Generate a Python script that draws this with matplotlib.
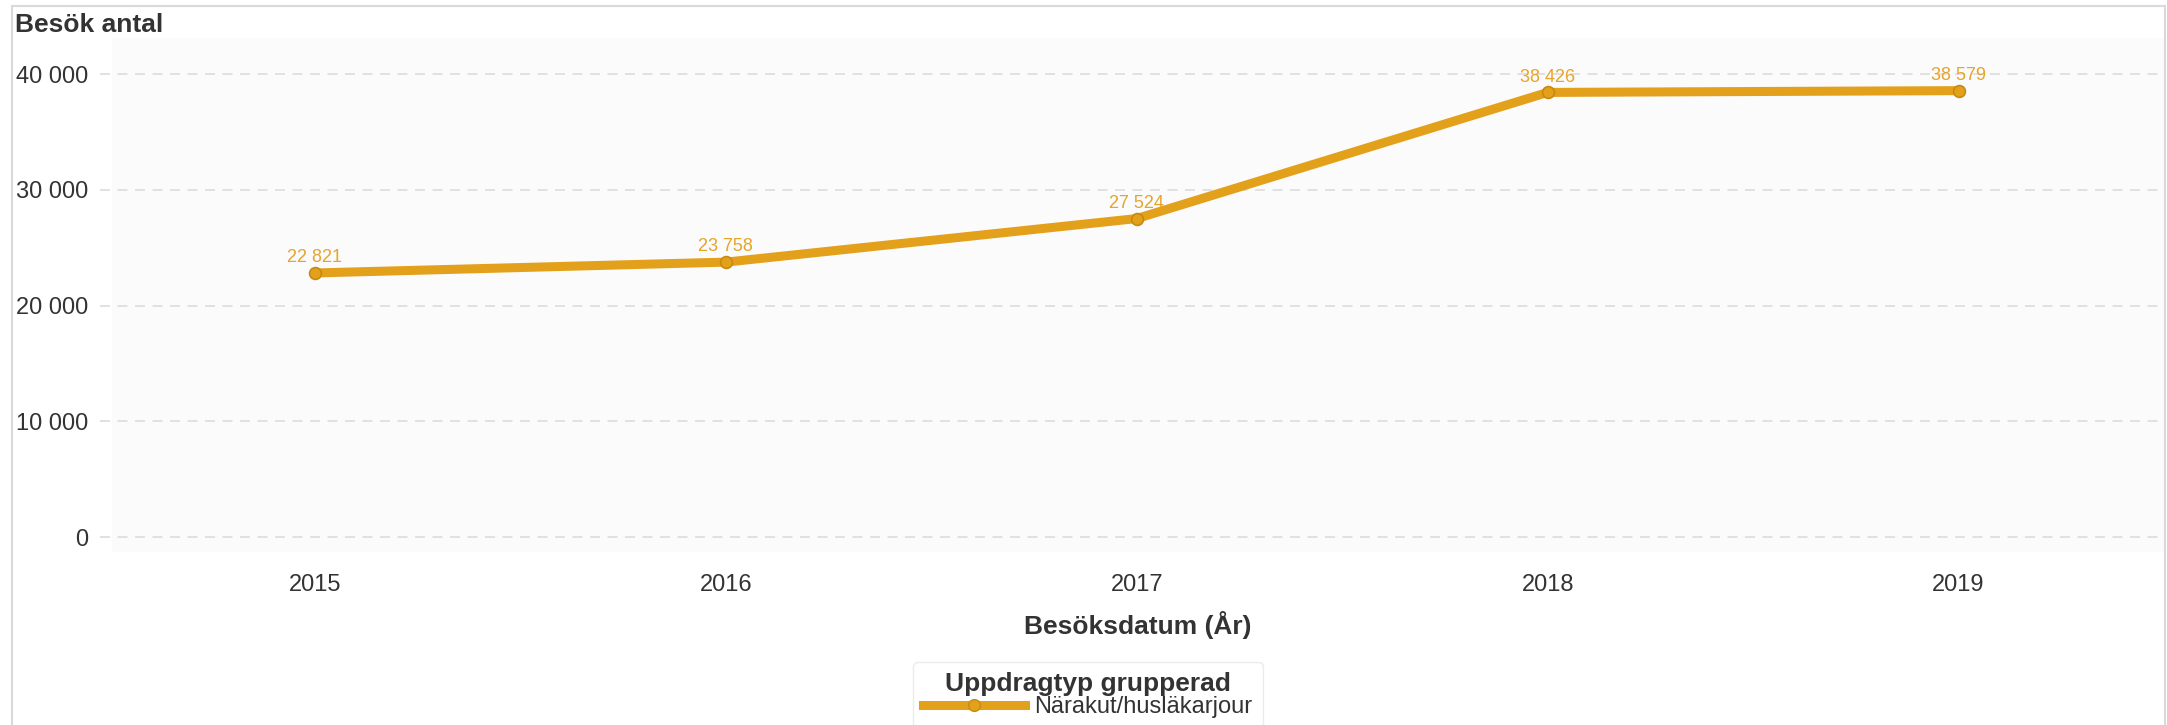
import matplotlib
matplotlib.use("Agg")
import matplotlib.pyplot as plt
from matplotlib.patches import Rectangle
from matplotlib.lines import Line2D

plt.rcParams['font.family'] = ['Liberation Sans', 'DejaVu Sans']

years = ["2015", "2016", "2017", "2018", "2019"]
visits = [22821, 23758, 27524, 38426, 38579]
series_name = "Närakut/husläkarjour"
yticks = [0, 10000, 20000, 30000, 40000]

W, H = 2167, 725
fig = plt.figure(figsize=(W / 100, H / 100), dpi=100)
fig.patch.set_facecolor('white')

ax_l, ax_r, ax_t, ax_b = 112, 2164, 38, 552
ax = fig.add_axes([ax_l / W, 1 - ax_b / H, (ax_r - ax_l) / W, (ax_b - ax_t) / H])
ax.set_facecolor('#fbfbfb')
for s in ax.spines.values():
    s.set_visible(False)

line_col = '#E3A01B'
label_col = '#E6A42B'
text_col = '#333333'

xs = list(range(len(years)))
ax.plot(xs, visits, color=line_col, lw=6.5, solid_capstyle='round', zorder=3,
        marker='o', markersize=8.5, markerfacecolor=line_col,
        markeredgecolor='#C88A0E', markeredgewidth=1.2)

def fmt(v):
    return f"{v:,}".replace(",", " ")

for x, v in zip(xs, visits):
    ax.annotate(fmt(v), (x, v), xytext=(0, 11), textcoords='offset points',
                ha='center', va='center', fontsize=13, color=label_col, zorder=4)

ax.set_xlim(-0.494, 4.50)
ax.set_ylim(-1296, 43129)
ax.set_xticks(xs)
ax.set_xticklabels(years)
ax.set_yticks(yticks)
ax.set_yticklabels([fmt(t) for t in yticks])
ax.tick_params(axis='both', length=0, labelsize=17, labelcolor=text_col)
ax.tick_params(axis='y', pad=17)
ax.tick_params(axis='x', pad=16)

for t in yticks:
    ax.axhline(t, xmin=-0.006, xmax=1, color='#dcdcdc', lw=1.2,
               linestyle=(0, (6, 4.5)), clip_on=False, zorder=1)

fig.text(15 / W, 1 - 25 / H, "Besök antal", fontsize=19, fontweight='bold',
         color=text_col, ha='left', va='center')
fig.text(1138 / W, 1 - 625 / H, "Besöksdatum (År)", fontsize=19, fontweight='bold',
         color=text_col, ha='center', va='center')

handle = Line2D([], [], color=line_col, lw=6.5, marker='o', markersize=8.5,
                markerfacecolor=line_col, markeredgecolor='#C88A0E')
leg = fig.legend(handles=[handle], labels=[series_name], loc='upper center',
                 bbox_to_anchor=(1088 / W, 1 - 650 / H), fontsize=17,
                 title="Uppdragtyp grupperad",
                 title_fontproperties={'weight': 'bold', 'size': 19},
                 frameon=True, fancybox=True, edgecolor='#e6e6e6',
                 handlelength=4.3, handletextpad=0.4, borderpad=0.45,
                 labelspacing=0.2)
leg.get_frame().set_linewidth(1.0)
for t in leg.get_texts():
    t.set_color(text_col)
leg.get_title().set_color(text_col)
leg._legend_box.sep = 0

fig.patches.append(Rectangle((12 / W, -0.02), (2165 - 12) / W, 1.02 - 6 / H,
                             transform=fig.transFigure, fill=False,
                             edgecolor='#d9d9d9', lw=1.5, zorder=0))

fig.savefig("out.png", dpi=100)
